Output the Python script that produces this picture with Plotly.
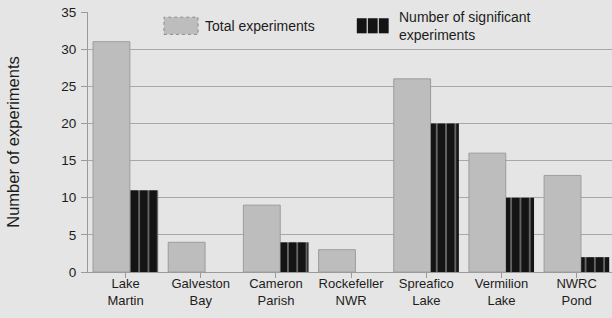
import plotly.graph_objects as go

categories = ["Lake<br>Martin", "Galveston<br>Bay", "Cameron<br>Parish", "Rockefeller<br>NWR",
              "Spreafico<br>Lake", "Vermilion<br>Lake", "NWRC<br>Pond"]
total_experiments = [31, 4, 9, 3, 26, 16, 13]
significant_experiments = [11, 0, 4, 0, 20, 10, 2]
y_ticks = [0, 5, 10, 15, 20, 25, 30, 35]

BG = "#e5e5e5"
GRAY = "#bdbdbd"
BLACK = "#141414"
TEXT = "#1c1c1c"
FONT = "Liberation Sans, Arial, sans-serif"

fig = go.Figure()
fig.add_trace(go.Bar(
    x=categories, y=total_experiments, name="Total experiments",
    offset=-0.433, width=0.49,
    marker=dict(color=GRAY, line=dict(color="#9c9c9c", width=1)),
    showlegend=False,
))
fig.add_trace(go.Bar(
    x=categories, y=significant_experiments, name="Number of significant experiments",
    offset=0.06, width=0.373,
    marker=dict(color=BLACK, line=dict(width=0),
                pattern=dict(shape="|", fgcolor="#9a9a9a", bgcolor=BLACK,
                             size=9.3, solidity=0.12, fillmode="replace")),
    showlegend=False,
))

# legend drawn as decoration (paper coordinates)
shapes = [
    dict(type="rect", xref="paper", yref="paper", x0=0.145, x1=0.210, y0=0.914, y1=0.980,
         fillcolor=GRAY, line=dict(color="#8a8a8a", width=1, dash="dot")),
]
bx0, bx1 = 0.513, 0.576
seg = (bx1 - bx0) / 3
for i in range(3):
    shapes.append(dict(type="rect", xref="paper", yref="paper",
                       x0=bx0 + i * seg, x1=bx0 + (i + 1) * seg - 0.0022,
                       y0=0.918, y1=0.976, fillcolor=BLACK, line=dict(width=0)))

annotations = [
    dict(text="Total experiments", xref="paper", yref="paper", x=0.220, y=0.948,
         xanchor="left", yanchor="middle", showarrow=False,
         font=dict(family=FONT, size=14, color=TEXT)),
    dict(text="Number of significant<br>experiments", xref="paper", yref="paper", x=0.590, y=0.946,
         xanchor="left", yanchor="middle", showarrow=False, align="left",
         font=dict(family=FONT, size=14, color=TEXT)),
]

fig.update_layout(
    width=612, height=318,
    margin=dict(l=88, r=0, t=12, b=46),
    paper_bgcolor=BG, plot_bgcolor=BG,
    barmode="overlay",
    font=dict(family=FONT, size=13.5, color=TEXT),
    shapes=shapes, annotations=annotations,
    xaxis=dict(
        type="category", range=[-0.5, 6.47], automargin=False,
        showline=True, linecolor="#9a9a9a", linewidth=1,
        ticks="outside", ticklen=5, tickcolor="#9a9a9a",
        tickfont=dict(size=13, color=TEXT), showgrid=False,
        ticklabelstandoff=-6,
    ),
    yaxis=dict(
        range=[0, 35], tickvals=y_ticks, automargin=False,
        showline=True, linecolor="#9a9a9a", linewidth=1,
        ticks="outside", ticklen=6, tickcolor="#9a9a9a",
        showgrid=True, gridcolor="#a8a8a8", gridwidth=1, zeroline=False,
        tickfont=dict(size=13.5, color=TEXT), ticklabelstandoff=2,
        title=dict(text="Number of experiments", font=dict(size=16.5, color=TEXT), standoff=37),
    ),
)

fig.write_html("out.html", config={"displayModeBar": False},
               post_script="document.body.style.margin='0';document.body.style.background='" + BG + "';")
